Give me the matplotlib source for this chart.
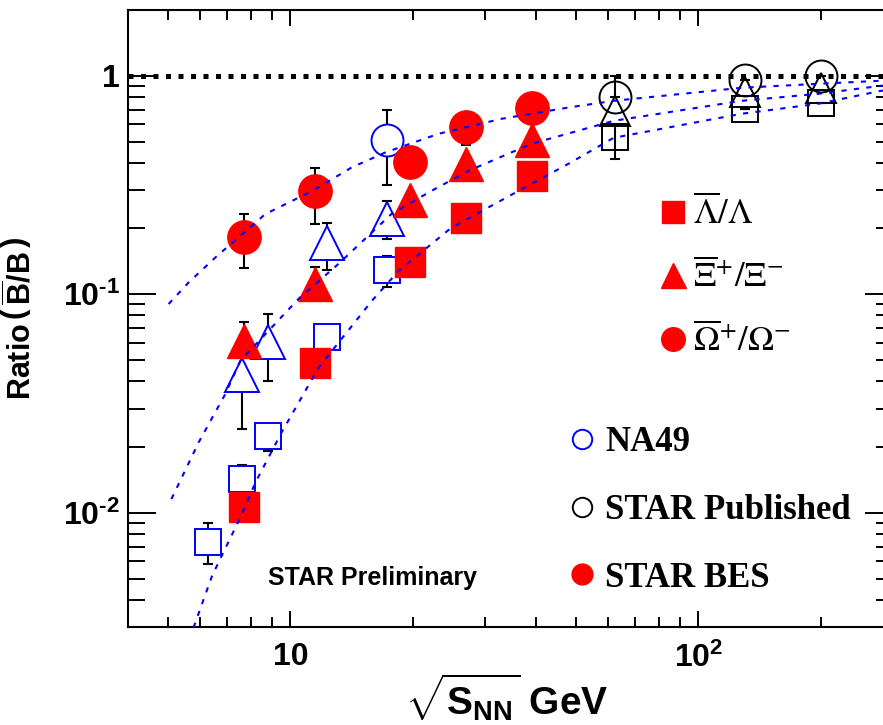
import matplotlib
matplotlib.use("Agg")
import matplotlib.pyplot as plt
from matplotlib.font_manager import FontProperties
from matplotlib.lines import Line2D
from matplotlib.ticker import LogLocator, NullFormatter

plt.rcParams["font.family"] = ["Liberation Sans", "DejaVu Sans"]
plt.rcParams["mathtext.fontset"] = "custom"
plt.rcParams["mathtext.rm"] = "Liberation Sans:bold"
plt.rcParams["mathtext.bf"] = "Liberation Sans:bold"
plt.rcParams["mathtext.it"] = "Liberation Sans:bold:italic"

# STAR BES (red, filled)
bes_energy = [7.7, 11.5, 19.6, 27.0, 39.0]
bes_lambda = [0.0106, 0.0487, 0.140, 0.224, 0.346]
bes_xi = [0.0613, 0.111, 0.27, 0.395, 0.51]
bes_xi_err_lo = [0.0, 0.0, 0.0, 0.0, 0.0]
bes_xi_err_hi = [0.013, 0.022, 0.0, 0.0, 0.0]
bes_omega = [0.183, 0.298, 0.404, 0.58, 0.71]
bes_omega_err_lo = [0.051, 0.088, 0.06, 0.10, 0.05]
bes_omega_err_hi = [0.05, 0.081, 0.03, 0.04, 0.05]

# NA49 (blue, open)
na49_lambda_energy = [6.3, 7.6, 8.8, 12.3, 17.3]
na49_lambda = [0.00736, 0.0143, 0.0225, 0.0639, 0.129]
na49_lambda_err_lo = [0.00155, 0.0, 0.0034, 0.0, 0.0215]
na49_lambda_err_hi = [0.00158, 0.0023, 0.0, 0.0, 0.021]
na49_xi_energy = [7.6, 8.8, 12.3, 17.3]
na49_xi = [0.0427, 0.0606, 0.172, 0.222]
na49_xi_err_lo = [0.0185, 0.0204, 0.043, 0.043]
na49_xi_err_hi = [0.012, 0.0206, 0.041, 0.044]
na49_omega_energy = [17.3]
na49_omega = [0.51]
na49_omega_err_lo = [0.193]
na49_omega_err_hi = [0.19]

# STAR published (black, open)
pub_energy = [62.4, 130.0, 200.0]
pub_lambda = [0.526, 0.706, 0.747]
pub_lambda_err_lo = [0.11, 0.0, 0.0]
pub_lambda_err_hi = [0.075, 0.0, 0.0]
pub_xi = [0.69, 0.84, 0.88]
pub_omega = [0.80, 0.96, 1.0]
pub_omega_err_lo = [0.0, 0.0, 0.0]
pub_omega_err_hi = [0.2, 0.0, 0.0]

# fit curves
fit_omega_x = [5.03, 5.63, 6.55, 8.68, 11.34, 14.13, 17.09, 23.1, 32.96, 48.1, 62.0, 127.6, 197.0, 281.0, 300.0]
fit_omega_y = [0.0902, 0.1132, 0.1474, 0.2328, 0.2977, 0.3804, 0.4457, 0.5428, 0.6357, 0.716, 0.768, 0.881, 0.919, 0.949, 0.952]
fit_xi_x = [5.11, 5.96, 6.93, 7.54, 10.48, 13.13, 17.71, 22.2, 27.35, 39.0, 62.0, 127.6, 197.0, 281.0, 300.0]
fit_xi_y = [0.01155, 0.0210, 0.0350, 0.0496, 0.0954, 0.1379, 0.2335, 0.2977, 0.3674, 0.4884, 0.622, 0.768, 0.827, 0.90, 0.905]
fit_lambda_x = [5.79, 6.43, 7.54, 8.21, 9.54, 11.73, 13.64, 15.85, 18.43, 24.8, 36.3, 48.1, 62.0, 127.6, 197.0, 281.0, 300.0]
fit_lambda_y = [0.00298, 0.00515, 0.00952, 0.01376, 0.0235, 0.0462, 0.0657, 0.0934, 0.128, 0.2015, 0.2977, 0.396, 0.520, 0.670, 0.745, 0.854, 0.86]

RED = "#ff0000"
BLUE = "#0000ff"

fig = plt.figure(figsize=(8.83, 7.25), dpi=100)
ax = fig.add_axes([128 / 883, 98 / 725, 765 / 883, 617 / 725])
ax.set_xscale("log")
ax.set_yscale("log")
ax.set_xlim(4, 300)
ax.set_ylim(0.003, 2.0)

ax.axhline(1.0, color="black", lw=3.6, ls=(0, (1, 1.5)), zorder=2)

err_kw = dict(fmt="none", ecolor="black", elinewidth=1.5, capsize=3.6, capthick=1.5, zorder=2)

# NA49
ax.errorbar(na49_lambda_energy, na49_lambda, yerr=[na49_lambda_err_lo, na49_lambda_err_hi], **err_kw)
ax.errorbar(na49_xi_energy, na49_xi, yerr=[na49_xi_err_lo, na49_xi_err_hi], **err_kw)
ax.errorbar(na49_omega_energy, na49_omega, yerr=[na49_omega_err_lo, na49_omega_err_hi], **err_kw)
open_kw = dict(ls="none", mfc="white", mec=BLUE, mew=1.4, zorder=3)
ax.plot(na49_lambda_energy, na49_lambda, marker="s", ms=18.5, **open_kw)
ax.plot(na49_xi_energy, na49_xi, marker="^", ms=24, **open_kw)
ax.plot(na49_omega_energy, na49_omega, marker="o", ms=23, **open_kw)

# STAR published
ax.errorbar(pub_energy, pub_lambda, yerr=[pub_lambda_err_lo, pub_lambda_err_hi], **err_kw)
ax.errorbar(pub_energy, pub_omega, yerr=[pub_omega_err_lo, pub_omega_err_hi], **err_kw)
pub_kw = dict(ls="none", mfc="none", mec="black", mew=1.4, zorder=3)
ax.plot(pub_energy, pub_lambda, marker="s", ms=19, **pub_kw)
ax.plot(pub_energy, pub_xi, marker="^", ms=21, **pub_kw)
ax.plot(pub_energy, pub_omega, marker="o", ms=23, **pub_kw)

# STAR BES
ax.errorbar(bes_energy, bes_xi, yerr=[bes_xi_err_lo, bes_xi_err_hi], **err_kw)
ax.errorbar(bes_energy, bes_omega, yerr=[bes_omega_err_lo, bes_omega_err_hi], **err_kw)
red_kw = dict(ls="none", color=RED, mec=RED, zorder=4)
ax.plot(bes_energy, bes_lambda, marker="s", ms=22, **red_kw)
ax.plot(bes_energy, bes_xi, marker="^", ms=25, **red_kw)
ax.plot(bes_energy, bes_omega, marker="o", ms=24, **red_kw)

# fits
fit_kw = dict(color=BLUE, lw=1.5, ls=(0, (2.5, 3.5)), zorder=5)
ax.plot(fit_omega_x, fit_omega_y, **fit_kw)
ax.plot(fit_xi_x, fit_xi_y, **fit_kw)
ax.plot(fit_lambda_x, fit_lambda_y, **fit_kw)

# axes style
for sp in ax.spines.values():
    sp.set_linewidth(1.5)
ax.tick_params(which="both", direction="in", top=True, right=True, width=1.4, labelsize=23)
ax.tick_params(axis="y", which="major", length=20, pad=6)
ax.tick_params(axis="y", which="minor", length=12)
ax.tick_params(axis="x", which="major", length=11.5, pad=11)
ax.tick_params(axis="x", which="minor", length=7.5)
ax.set_xticks([10, 100], labels=["10", r"$10^{2}$"], fontweight="bold")
ax.set_yticks([0.01, 0.1, 1.0], labels=[r"$10^{\text{-}2}$", r"$10^{\text{-}1}$", "1"], fontweight="bold")
ax.xaxis.set_minor_locator(LogLocator(base=10, subs=range(2, 10), numticks=20))
ax.yaxis.set_minor_locator(LogLocator(base=10, subs=range(2, 10), numticks=20))
ax.xaxis.set_minor_formatter(NullFormatter())
ax.yaxis.set_minor_formatter(NullFormatter())

ax.set_ylabel(r"Ratio$\,\left(\,\overline{\mathrm{B}}/\mathrm{B}\,\right)$", fontsize=22, fontweight="bold")
ax.yaxis.set_label_coords(-0.1176, 0.50)
ax.set_xlabel(r"$\sqrt{\mathrm{S_{NN}}}$ GeV", fontsize=28, fontweight="bold")
ax.xaxis.set_label_coords(0.495, -0.115)
ax.xaxis.label.set_va("center")

ax.text(0.183, 0.0794, "STAR Preliminary", transform=ax.transAxes, fontsize=18,
        fontweight="bold", ha="left", va="center")

# legends
h1 = [
    Line2D([], [], ls="none", marker="s", ms=16.5, color=RED),
    Line2D([], [], ls="none", marker="^", ms=18, color=RED),
    Line2D([], [], ls="none", marker="o", ms=17, color=RED),
]
l1 = [r"$\overline{\Lambda}/\Lambda$", r"$\overline{\Xi}^{+}/\Xi^{-}$", r"$\overline{\Omega}^{+}/\Omega^{-}$"]
greek_prop = FontProperties(family="Liberation Serif", size=25, weight="normal", math_fontfamily="stix")
leg1 = ax.legend(h1, l1, loc="center left", bbox_to_anchor=(0.694, 0.567), frameon=False,
                 prop=greek_prop, handlelength=0.8, handletextpad=0.18, labelspacing=0.8,
                 borderpad=0, borderaxespad=0)
ax.add_artist(leg1)

h2 = [
    Line2D([], [], ls="none", marker="o", ms=14, mfc="none", mec=BLUE, mew=1.4),
    Line2D([], [], ls="none", marker="o", ms=14, mfc="none", mec="black", mew=1.4),
    Line2D([], [], ls="none", marker="o", ms=15, color=RED),
]
l2 = ["NA49", "STAR Published", "STAR BES"]
ax.legend(h2, l2, loc="center left", bbox_to_anchor=(0.575, 0.189), frameon=False,
          prop={"family": "Liberation Serif", "size": 25, "weight": "bold"},
          handlelength=0.8, handletextpad=0.27, labelspacing=1.0,
          borderpad=0, borderaxespad=0)

fig.savefig("out.png", dpi=100)
